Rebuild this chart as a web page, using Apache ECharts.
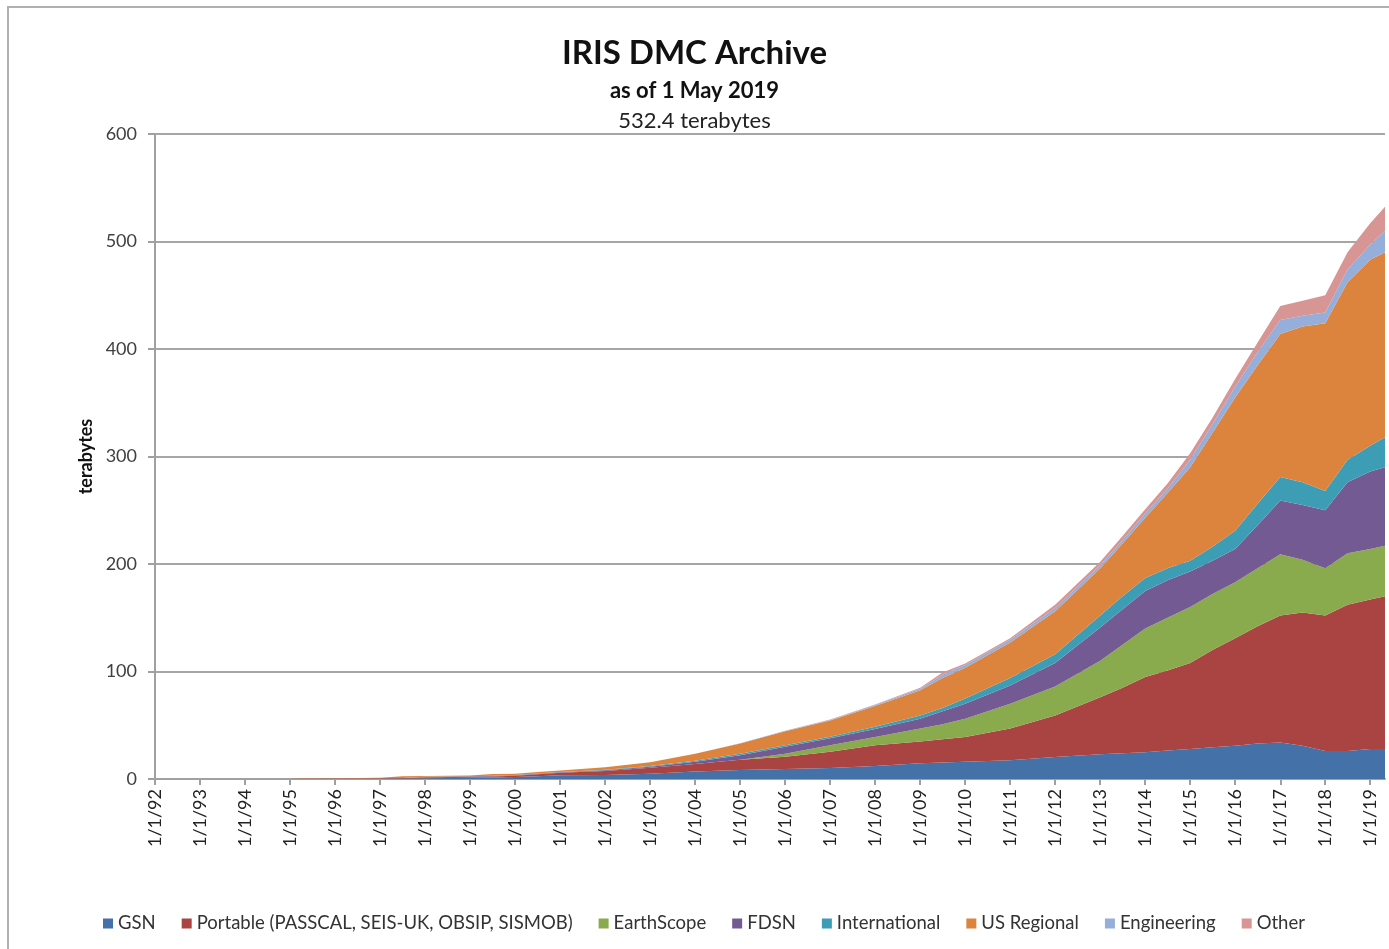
<!DOCTYPE html>
<html>
<head>
<meta charset="utf-8">
<script src="https://cdn.jsdelivr.net/npm/echarts@6/dist/echarts.min.js"></script>
<style>
html,body{margin:0;padding:0;background:#fff;}
#chart{width:1389px;height:949px;}
</style>
</head>
<body>
<div id="chart"></div>
<script>
// Time points
var dates = ['1992-01-01','1993-01-01','1994-01-01','1995-01-01','1995-04-01','1996-01-01','1997-01-01','1997-07-01','1998-01-01','1999-01-01','1999-07-01','2000-01-01','2000-07-01','2001-01-01','2002-01-01','2003-01-01','2004-01-01','2005-01-01','2006-01-01','2007-01-01','2008-01-01','2009-01-01','2009-07-01','2010-01-01','2011-01-01','2012-01-01','2013-01-01','2013-07-01','2014-01-01','2014-07-01','2015-01-01','2015-07-01','2016-01-01','2016-07-01','2017-01-01','2017-07-01','2018-01-01','2018-07-01','2019-01-01','2019-05-01'];

// Per-network archive size (terabytes), stacked
var gsn = [0,0,0,0,0.1,0.2,0.3,0.5,0.8,1.2,1.5,1.8,2.5,3.5,3.7,4.8,7,8.4,9.3,10.3,12,14.6,15.3,16,17.5,20.5,23,24,25,26.5,28,29.5,31,33,34,31,26,26,28,28];
var portable = [0,0,0,0,0.1,0.2,0.3,0.4,0.7,0.8,0.9,1.2,2.0,2.3,3.8,5.7,7,9.6,11.4,15.1,19.5,20.4,21.7,23,29.5,38.5,53,61,70,74.5,80,90.5,100,109,118,124,126,136,139,142];
var earthscope = [0,0,0,0,0,0,0,0,0,0,0,0,0,0,0,0,0,0,2.8,6.1,7.5,12,14,17,23,27,34,40,45,49,52,52,52,54,57,49,44,48,47,47];
var fdsn = [0,0,0,0,0,0,0.1,0.1,0.4,0.5,0.5,0.6,0.5,0.5,0.7,1.0,2,4,6.5,6.3,7.5,9,12,14,17,22,31,33,35,35,33,31,31,40,50,51,54,66,72,73];
var international = [0,0,0,0,0,0,0,0,0.1,0.1,0.1,0.2,0.2,0.2,0.3,0.5,1,1.5,1.5,1.6,2,3,3,5,7,8,11,12,12,11,10,13,17,20,22,21,18,21,24,28];
var usRegional = [0,0,0,0,0.3,0.4,0.5,1.6,0.8,0.7,1.6,1.2,1.3,1.3,2.5,3.5,6.5,9.5,13,15.1,19.5,23.5,28,28.5,33,40,44,49,56,70,87,106,124,129,133,145,156,165,173,172];
var engineering = [0,0,0,0,0,0,0,0,0,0,0,0,0,0,0,0,0,0.2,0.3,0.5,0.8,1.5,3,2.5,2.5,3,3,3,4,4,7,8,10,12,13,10,10,12,14,20];
var other = [0,0,0,0,0,0,0,0,0,0,0,0,0,0,0,0,0.1,0.1,0.2,0.3,0.5,1,2,1.5,1.5,3,3,4,4,5,6,6,7,9,13,14,16,16,20,22.4];

var seriesNames = ['GSN', 'Portable (PASSCAL, SEIS-UK, OBSIP, SISMOB)', 'EarthScope', 'FDSN', 'International', 'US Regional', 'Engineering', 'Other'];
var seriesValues = [gsn, portable, earthscope, fdsn, international, usRegional, engineering, other];
var colors = ['#4472A8', '#A94442', '#8AAA4E', '#745A93', '#3C9DB5', '#DC843D', '#95AEDA', '#D79593'];

var xMin = '1992-01-01', xMax = '2019-05-01';
var YEAR = 365 * 24 * 3600 * 1000;

var FONT = 'Lato, "Open Sans", sans-serif';

var chart = echarts.init(document.getElementById('chart'));

var series = seriesNames.map(function (name, i) {
  return {
    name: name,
    type: 'line',
    stack: 'total',
    symbol: 'none',
    showSymbol: false,
    lineStyle: { width: 0 },
    itemStyle: { color: colors[i] },
    areaStyle: { color: colors[i], opacity: 1 },
    data: dates.map(function (d, j) { return [d, seriesValues[i][j]]; })
  };
});

chart.setOption({
  animation: false,
  color: colors,
  title: [
    { text: 'IRIS DMC Archive', left: 'center', top: 32,
      textStyle: { fontFamily: FONT, fontSize: 33, fontWeight: 'bold', color: '#111' } },
    { text: 'as of 1 May 2019', left: 'center', top: 75,
      textStyle: { fontFamily: FONT, fontSize: 22, fontWeight: 'bold', color: '#111' } },
    { text: '532.4 terabytes', left: 'center', top: 105,
      textStyle: { fontFamily: FONT, fontSize: 22, fontWeight: 'normal', color: '#222' } }
  ],
  graphic: [{
    type: 'rect', shape: { x: 8, y: 7, width: 1400, height: 960 },
    style: { fill: 'none', stroke: '#b0b0b0', lineWidth: 2 }, silent: true
  }],
  legend: {
    bottom: 11, left: 98,
    icon: 'rect', itemWidth: 10, itemHeight: 10, itemGap: 26,
    textStyle: { fontFamily: FONT, fontSize: 18.5, color: '#333' },
    data: seriesNames
  },
  grid: { left: 155, right: 4, top: 134, bottom: 170, containLabel: false },
  xAxis: {
    type: 'time', min: xMin, max: xMax,
    minInterval: YEAR, maxInterval: YEAR + 24 * 3600 * 1000,
    axisLine: { show: true, lineStyle: { color: '#a0a0a0', width: 2 } },
    axisTick: { show: true, length: 6, lineStyle: { color: '#a0a0a0', width: 2 } },
    splitLine: { show: false },
    axisLabel: {
      rotate: 90, margin: 10, showMaxLabel: false, showMinLabel: true,
      fontFamily: FONT, fontSize: 18, color: '#222',
      formatter: function (v) {
        var d = new Date(v);
        var y = d.getFullYear() % 100;
        return (d.getMonth() + 1) + '/' + d.getDate() + '/' + (y < 10 ? '0' + y : '' + y);
      }
    }
  },
  yAxis: {
    type: 'value', min: 0, max: 600, interval: 100,
    name: 'terabytes', nameLocation: 'middle', nameGap: 58,
    nameTextStyle: { fontFamily: FONT, fontSize: 18, fontWeight: 'bold', color: '#111' },
    axisLine: { show: true, lineStyle: { color: '#a0a0a0', width: 2 } },
    axisTick: { show: true, length: 7, lineStyle: { color: '#a0a0a0', width: 2 } },
    splitLine: { show: true, lineStyle: { color: '#a6a6a6', width: 2 } },
    axisLabel: { margin: 18, fontFamily: FONT, fontSize: 18, color: '#404040' }
  },
  series: series
});
</script>
</body>
</html>
